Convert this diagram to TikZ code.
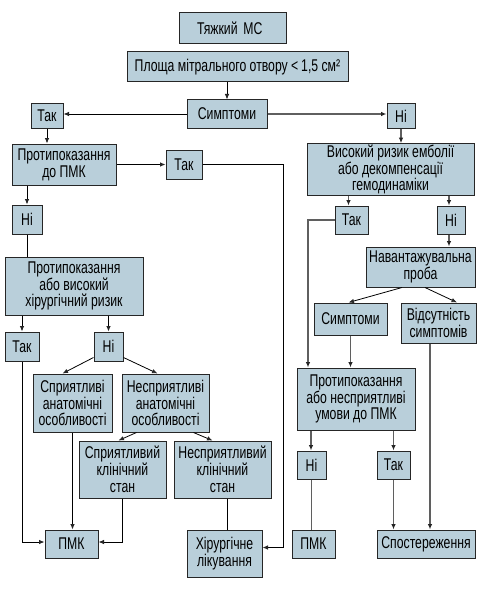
\documentclass[tikz,border=0pt]{standalone}
\usepackage{fontspec}
\setmainfont[FakeStretch=0.72]{Liberation Sans}
\usetikzlibrary{arrows.meta,calc}
\definecolor{boxfill}{RGB}{185,207,218}
\definecolor{gline}{RGB}{95,95,95}
\begin{document}
\begin{tikzpicture}[x=1pt,y=-1pt,
  box/.style={draw=black!85,line width=1pt,fill=boxfill,inner sep=1pt,align=center,
    font=\fontsize{17}{16.8}\selectfont},
  bl/.style={line width=0.8pt,draw=black},
  gl/.style={line width=1.3pt,draw=gline},
  arr/.style={-{Latex[length=5.5pt,width=4.5pt,color=black!85]}},
]
\useasboundingbox[fill=white] (0,0) rectangle (478,591);
% nodes
\node[box,minimum width=107pt,minimum height=31pt,text width=95pt,align=left] (top) at (232.5,28.5) {\hspace{12pt}Тяжкий МС};
\node[box,minimum width=221pt,minimum height=30pt] (area) at (237.5,67) {Площа мітрального отвору <\,1,5 см²};
\node[box,minimum width=80pt,minimum height=28pt] (symp) at (227,114) {Симптоми};
\node[box,minimum width=32pt,minimum height=24pt] (tak1) at (47,116) {Так};
\node[box,minimum width=28pt,minimum height=24pt] (ni1) at (401,116) {Ні};
\node[box,minimum width=104pt,minimum height=41pt] (contra1) at (64,164.5) {Протипоказання\\до ПМК};
\node[box,minimum width=36pt,minimum height=29pt] (tak2) at (184,164.5) {Так};
\node[box,minimum width=167pt,minimum height=51pt] (risk) at (390.5,169.5) {Високий ризик емболії\\або декомпенсації\\гемодинаміки};
\node[box,minimum width=30pt,minimum height=29pt] (ni2) at (27,219.5) {Ні};
\node[box,minimum width=138pt,minimum height=58pt] (contra2) at (74,286) {Протипоказання\\або високий\\хірургічний ризик};
\node[box,minimum width=34pt,minimum height=29pt] (tak3) at (22,346.5) {Так};
\node[box,minimum width=29pt,minimum height=29pt] (ni3) at (108.5,346.5) {Ні};
\node[box,minimum width=79pt,minimum height=58pt] (favanat) at (72.5,403) {Сприятливі\\анатомічні\\особливості};
\node[box,minimum width=87pt,minimum height=58pt] (unfavanat) at (165.5,403) {Несприятливі\\анатомічні\\особливості};
\node[box,minimum width=87pt,minimum height=57pt] (favclin) at (122.5,469.5) {Сприятливий\\клінічний\\стан};
\node[box,minimum width=97pt,minimum height=57pt] (unfavclin) at (222.5,469.5) {Несприятливий\\клінічний\\стан};
\node[box,minimum width=53pt,minimum height=28pt] (pmk1) at (71.5,544) {ПМК};
\node[box,minimum width=75pt,minimum height=47pt] (surg) at (224.5,553.5) {Хірургічне\\лікування};
\node[box,minimum width=33pt,minimum height=28pt] (tak4) at (351.5,220) {Так};
\node[box,minimum width=28pt,minimum height=28pt] (ni4) at (451,220) {Ні};
\node[box,minimum width=109pt,minimum height=40pt] (load) at (420.5,267) {Навантажувальна\\проба};
\node[box,minimum width=73pt,minimum height=32pt] (symp2) at (350.5,319) {Симптоми};
\node[box,minimum width=75pt,minimum height=40pt] (absent) at (438.5,323) {Відсутність\\симптомів};
\node[box,minimum width=118pt,minimum height=62pt] (contra3) at (356,399) {Протипоказання\\або несприятливі\\умови до ПМК};
\node[box,minimum width=29pt,minimum height=28pt] (ni5) at (311.5,465) {Ні};
\node[box,minimum width=33pt,minimum height=28pt] (tak5) at (393.5,465) {Так};
\node[box,minimum width=43pt,minimum height=28pt] (pmk2) at (313.5,544) {ПМК};
\node[box,minimum width=98pt,minimum height=28pt] (obs) at (426,544) {Спостереження};
\coordinate (c1) at (283,164.5);
% connectors (left side)
\draw[bl,arr] (symp.north |- area.south) -- (symp.north);
\draw[bl,arr] (symp.west) -- (tak1.east |- symp.west);
\draw[gl,arr] (symp.east) -- (ni1.west |- symp.east);
\draw[bl,arr] (tak1.south) -- (tak1.south |- contra1.north);
\draw[bl,arr] (contra1.east) -- (tak2.west);
\draw[bl,arr] (tak2.east) -- (c1) |- ([yshift=6pt]surg.east);
\draw[bl,arr] (ni2.north |- contra1.south) -- (ni2.north);
\draw[bl] (ni2.south) -- (ni2.south |- contra2.north);
\draw[bl,arr] (tak3.north |- contra2.south) -- (tak3.north);
\draw[bl,arr] (ni3.north |- contra2.south) -- (ni3.north);
\draw[bl,arr] (tak3.south) |- ([yshift=2pt]pmk1.west);
\draw[bl,arr] ([yshift=4pt]ni3.south west) -- ([xshift=-10pt]favanat.north);
\draw[bl,arr] ([yshift=4pt]ni3.south east) -- ([xshift=-8pt]unfavanat.north);
\draw[bl,arr] (favanat.south) -- (favanat.south |- pmk1.north);
\draw[bl,arr] ([xshift=-29pt]unfavanat.south) -- ([xshift=-4pt]favclin.north);
\draw[bl,arr] ([xshift=28pt]unfavanat.south) -- ([xshift=-10pt]unfavclin.north);
\draw[bl,arr] (favclin.south) |- ([yshift=2pt]pmk1.east);
\draw[bl] ([xshift=5pt]unfavclin.south) -- ([xshift=5pt]unfavclin.south |- surg.north);
% connectors (right side)
\draw[gl,arr] (ni1.south) -- (ni1.south |- risk.north);
\draw[gl,arr] ([xshift=-3pt]tak4.north |- risk.south) -- ([xshift=-3pt]tak4.north);
\draw[gl,arr] ([xshift=-2pt]ni4.north |- risk.south) -- ([xshift=-2pt]ni4.north);
\draw[gl,arr] (tak4.west) -| ([xshift=-48pt]contra3.north);
\draw[gl,arr] ([xshift=-2pt]ni4.south) -- ([xshift=-2pt]ni4.south |- load.north);
\draw[bl,arr] ([xshift=-18.5pt]load.south) -- ([xshift=-2pt]symp2.north);
\draw[bl,arr] ([xshift=4.5pt]load.south) -- ([xshift=18.5pt]absent.north);
\draw[gl,arr] (symp2.south) -- (symp2.south |- contra3.north);
\draw[gl,arr] ([xshift=-8.5pt]absent.south) -- ([xshift=-8.5pt]absent.south |- obs.north);
\draw[gl,arr] ([xshift=-0.5pt]ni5.north |- contra3.south) -- ([xshift=-0.5pt]ni5.north);
\draw[gl,arr] (tak5.north |- contra3.south) -- (tak5.north);
\draw[gl] (ni5.south) -- (ni5.south |- pmk2.north);
\draw[gl,arr] (tak5.south) -- (tak5.south |- obs.north);
\end{tikzpicture}
\end{document}
